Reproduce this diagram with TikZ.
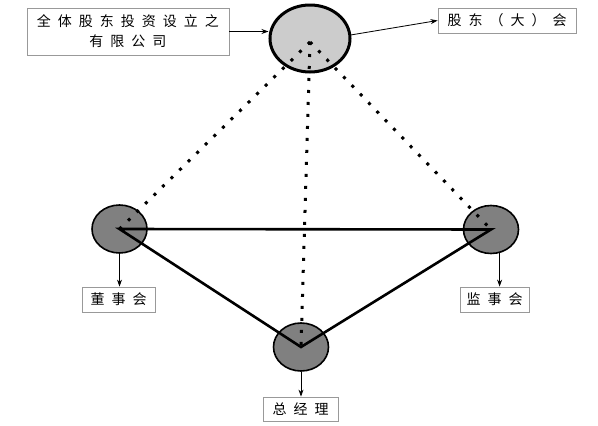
\documentclass[tikz,border=0pt]{standalone}
\usepackage{fontspec}
\newfontfamily\cjk{Noto Sans CJK SC}
\usetikzlibrary{shapes.geometric,arrows.meta}
\newcommand\cg{\hspace{7pt}}
\begin{document}
\begin{tikzpicture}[x=1pt,y=-1pt,
 lbl/.style={draw=black!40,line width=0.8pt,fill=white,font=\cjk\fontsize{14}{20}\selectfont,inner sep=0pt,align=center},
 topc/.style={ellipse,draw=black,line width=3pt,fill=black!20,minimum width=80pt,minimum height=67pt,inner sep=0pt},
 subc/.style={ellipse,draw=black,line width=1.6pt,fill=black!50,minimum width=55pt,minimum height=48pt,inner sep=0pt},
 dotl/.style={line width=3pt,dash pattern=on 3pt off 9pt},
 tri/.style={line width=2.6pt,line join=miter},
 arr/.style={line width=0.8pt,-{Stealth[length=7pt,width=5pt]}}
]
\useasboundingbox (0,0) rectangle (598,426);
\fill[white] (0,0) rectangle (598,426);
% circles
\node[topc] (top) at (310,38.5) {};
\node[subc] (dong) at (119.5,229) {};
\node[subc] (jian) at (491,229.5) {};
\node[subc] (zong) at (301,347) {};
\coordinate (hub) at (310,42);
% dotted links
\draw[dotl] (hub) -- (dong.center);
\draw[dotl] (hub) -- (jian.center);
\draw[dotl] (hub) -- (zong.center);
% triangle
\draw[tri] (dong.center) -- (jian.center) -- (zong.center) -- cycle;
% labels
\node[lbl,minimum width=202pt,minimum height=47pt] (company) at (128,31.5)
  {全\cg 体\cg 股\cg 东\cg 投\cg 资\cg 设\cg 立\cg 之\\有\cg 限\cg 公\cg 司};
\node[lbl,minimum width=138pt,minimum height=25pt] (gudong) at (507,20.5)
  {股\cg 东\cg （\cg 大\cg ）\cg 会};
\node[lbl,minimum width=73pt,minimum height=25pt] (dsh) at (118.5,299.5) {董\cg 事\cg 会};
\node[lbl,minimum width=69pt,minimum height=25pt] (jsh) at (494.5,299.5) {监\cg 事\cg 会};
\node[lbl,minimum width=75pt,minimum height=24pt] (zjl) at (300.5,409) {总\cg 经\cg 理};
% arrows
\draw[arr] (company.east) -- (company.east -| top.west);
\draw[arr] (top.5) -- (gudong.west);
\draw[arr] (dong.south) -- (dong.south |- dsh.north);
\draw[arr] (jian.-70) -- (jian.-70 |- jsh.north);
\draw[arr] (zong.south) -- (zong.south |- zjl.north);
\end{tikzpicture}
\end{document}
